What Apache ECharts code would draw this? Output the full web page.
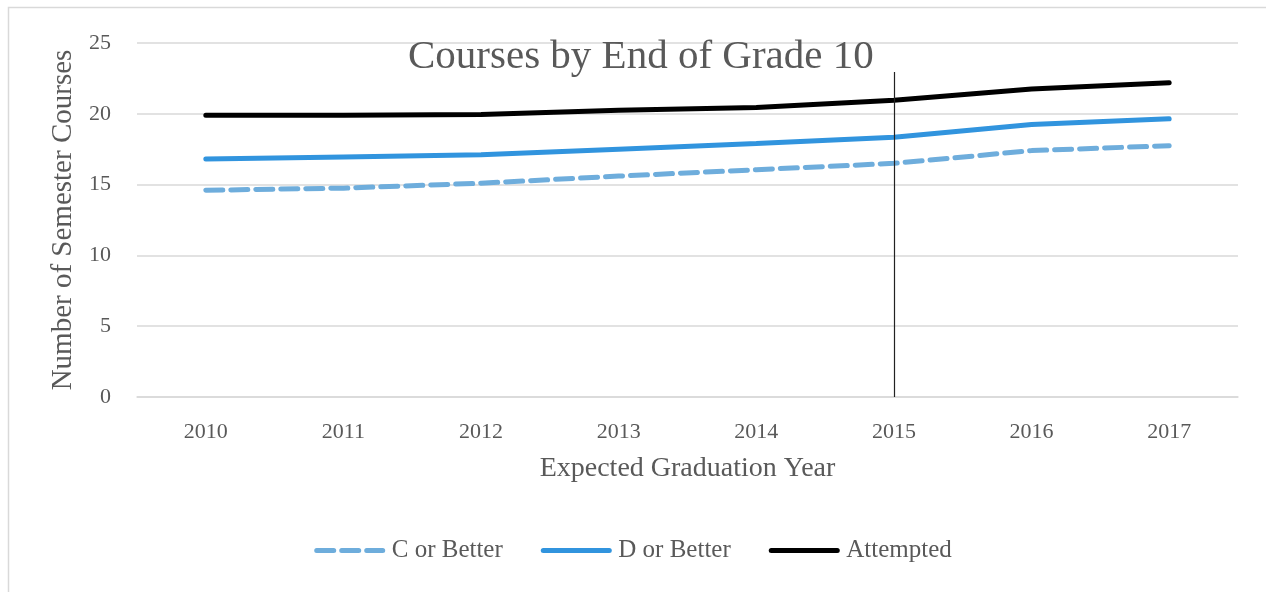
<!DOCTYPE html>
<html>
<head>
<meta charset="utf-8">
<script src="https://cdn.jsdelivr.net/npm/echarts@6/dist/echarts.min.js"></script>
<style>
  html, body { margin: 0; padding: 0; background: #fff; }
  #chart { width: 1266px; height: 592px; }
</style>
</head>
<body>
<div id="chart"></div>
<script>
// data
const years = ['2010', '2011', '2012', '2013', '2014', '2015', '2016', '2017']
const cOrBetter = [14.6, 14.75, 15.1, 15.6, 16.05, 16.5, 17.4, 17.75]
const dOrBetter = [16.8, 16.95, 17.1, 17.5, 17.9, 18.35, 19.25, 19.65]
const attempted = [19.9, 19.9, 19.95, 20.25, 20.45, 20.95, 21.75, 22.2]
const markYear = '2015'
const markTop = 22.95
const markBottom = 0

const font = 'Liberation Serif'
const grey = '#595959'

const chart = echarts.init(document.getElementById('chart'))
chart.setOption({
  animation: false,
  textStyle: { fontFamily: font },
  graphic: [
    {
      type: 'rect',
      shape: { x: 8.5, y: 7.5, width: 1300, height: 700 },
      style: { fill: 'none', stroke: '#d9d9d9', lineWidth: 1.5 },
      silent: true
    }
  ],
  title: {
    text: 'Courses by End of Grade 10',
    left: 408,
    top: 37,
    padding: 0,
    textStyle: { fontFamily: font, fontSize: 41, fontWeight: 'normal', color: grey }
  },
  grid: { left: 137, right: 28, top: 43, bottom: 195 },
  legend: {
    bottom: 24,
    left: 'center',
    itemWidth: 66,
    itemHeight: 5,
    itemGap: 38,
    itemStyle: { opacity: 0 },
    lineStyle: { width: 5, cap: 'round' },
    textStyle: { fontFamily: font, fontSize: 25, color: grey, padding: [0, 0, 0, 4] },
    data: ['C or Better', 'D or Better', 'Attempted']
  },
  xAxis: {
    type: 'category',
    data: years,
    boundaryGap: true,
    name: 'Expected Graduation Year',
    nameLocation: 'middle',
    nameGap: 58,
    nameTextStyle: { fontFamily: font, fontSize: 28, color: grey },
    axisLine: { lineStyle: { color: '#d9d9d9', width: 1.5 } },
    axisTick: { show: false },
    axisLabel: { fontFamily: font, fontSize: 22, color: grey, margin: 24 }
  },
  yAxis: {
    type: 'value',
    min: 0,
    max: 25,
    interval: 5,
    name: 'Number of Semester Courses',
    nameLocation: 'middle',
    nameGap: 56,
    nameTextStyle: { fontFamily: font, fontSize: 29, color: grey },
    axisLine: { show: false },
    axisTick: { show: false },
    axisLabel: { fontFamily: font, fontSize: 22, color: grey, margin: 26 },
    splitLine: { lineStyle: { color: '#d9d9d9', width: 1.5 } }
  },
  series: [
    {
      name: 'C or Better',
      type: 'line',
      data: cOrBetter,
      symbol: 'none',
      itemStyle: { color: '#6eaddc' },
      lineStyle: { color: '#6eaddc', width: 5, type: [17, 8], cap: 'round' }
    },
    {
      name: 'D or Better',
      type: 'line',
      data: dOrBetter,
      symbol: 'none',
      itemStyle: { color: '#3194de' },
      lineStyle: { color: '#3194de', width: 5, cap: 'round' }
    },
    {
      name: 'Attempted',
      type: 'line',
      data: attempted,
      symbol: 'none',
      itemStyle: { color: '#000' },
      lineStyle: { color: '#000', width: 5, cap: 'round' },
      markLine: {
        silent: true,
        symbol: 'none',
        label: { show: false },
        lineStyle: { color: '#222', width: 1.2, type: 'solid' },
        data: [[
          { coord: [markYear, markTop] },
          { coord: [markYear, markBottom] }
        ]]
      }
    }
  ]
})
</script>
</body>
</html>
